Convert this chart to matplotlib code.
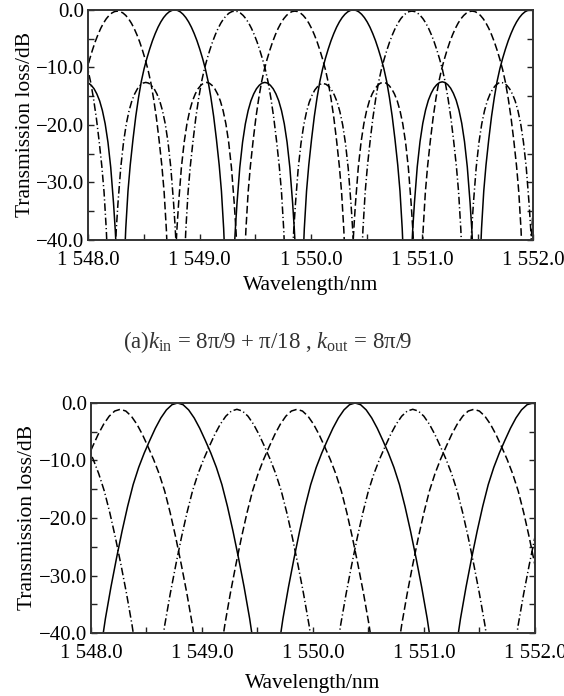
import matplotlib
matplotlib.use("Agg")
import matplotlib.pyplot as plt
from matplotlib.ticker import FuncFormatter, MultipleLocator

plt.rcParams["font.family"] = ["Liberation Serif", "DejaVu Serif"]
plt.rcParams["mathtext.fontset"] = "custom"
plt.rcParams["mathtext.rm"] = "Liberation Serif"
plt.rcParams["mathtext.it"] = "Liberation Serif:italic"

# lobe shapes: distance from lobe centre (nm) -> dB below the lobe peak
main_off = [0, 0.025, 0.05, 0.075, 0.10, 0.125, 0.15, 0.175, 0.20, 0.225, 0.25, 0.275,
            0.30, 0.325, 0.35, 0.375, 0.40, 0.42, 0.44, 0.455, 0.465, 0.475]
main_db = [0, -0.08, -0.33, -0.75, -1.33, -2.08, -3.0, -4.1, -5.35, -6.8, -8.4, -10.2,
           -12.4, -15.2, -18.5, -22.5, -27.0, -31.5, -38.0, -45.0, -52.0, -70.0]
side_off = [0, 0.025, 0.05, 0.075, 0.10, 0.125, 0.15, 0.175, 0.20, 0.225, 0.25, 0.265,
            0.28, 0.30, 0.325]
side_db = [0, -0.12, -0.5, -1.1, -2.0, -3.2, -4.9, -7.2, -10.4, -14.8, -21.0, -25.5,
           -31.0, -39.4, -57.4]
wide_off = [0, 0.05, 0.10, 0.15, 0.20, 0.25, 0.30, 0.35, 0.40, 0.45, 0.50, 0.55, 0.60,
            0.65, 0.70, 0.75, 0.80]
wide_db = [0, -0.3, -1.2, -2.6, -4.4, -6.5, -8.7, -11.2, -14.2, -18.0, -22.3, -27.0,
           -32.0, -37.5, -44.0, -54.0, -75.0]

# (a) lobe centres (nm) and peak levels (dB)
a_solid_centre = [1547.975, 1548.775, 1549.585, 1550.38, 1551.18, 1551.973]
a_solid_peak = [-12.6, 0.0, -12.6, 0.0, -12.5, 0.0]
a_dash_centre = [1548.26, 1549.06, 1549.855, 1550.65, 1551.448, 1552.25]
a_dash_peak = [-0.2, -12.6, -0.2, -12.6, -0.2, -12.6]
a_dashdot_centre = [1547.72, 1548.515, 1549.315, 1550.11, 1550.907, 1551.71, 1552.5]
a_dashdot_peak = [-0.2, -12.6, -0.2, -12.8, -0.2, -12.6, -0.2]

# (b) lobe centres (nm) and peak levels (dB)
b_solid_centre = [1548.78, 1550.38, 1551.98]
b_solid_peak = [0.0, 0.0, 0.0]
b_dash_centre = [1548.264, 1549.856, 1551.45]
b_dash_peak = [-1.1, -1.1, -1.1]
b_dashdot_centre = [1547.72, 1549.315, 1550.90, 1552.5]
b_dashdot_peak = [-1.1, -1.1, -1.1, -1.1]

x_ticks = [1548.0, 1549.0, 1550.0, 1551.0, 1552.0]
y_ticks = [0.0, -10.0, -20.0, -30.0, -40.0]


def lobe(centre, peak, off, db):
    xs = [centre - o for o in off[::-1]] + [centre + o for o in off[1:]]
    ys = [peak + d for d in db[::-1]] + [peak + d for d in db[1:]]
    return xs, ys


def trace(centres, peaks, wide=False):
    xs, ys = [], []
    for c, p in zip(centres, peaks):
        if wide:
            off, db = wide_off, wide_db
        elif p > -6:
            off, db = main_off, main_db
        else:
            off, db = side_off, side_db
        lx, ly = lobe(c, p, off, db)
        xs += lx
        ys += ly
    return xs, ys


def format_nm(value, pos):
    return f"{int(value) // 1000} {value - 1000 * (int(value) // 1000):.1f}"


def format_db(value, pos):
    return f"{value:.1f}".replace("-", "\u2212")


def style_axes(ax):
    ax.set_xlim(x_ticks[0], x_ticks[-1])
    ax.set_ylim(-40, 0)
    ax.set_xticks(x_ticks)
    ax.set_yticks(y_ticks)
    ax.xaxis.set_minor_locator(MultipleLocator(0.5))
    ax.yaxis.set_minor_locator(MultipleLocator(5))
    ax.xaxis.set_major_formatter(FuncFormatter(format_nm))
    ax.yaxis.set_major_formatter(FuncFormatter(format_db))
    ax.tick_params(which="both", direction="in", length=4, width=1.0,
                   top=False, right=True, labelsize=15, colors="#222222",
                   labelcolor="black")
    ax.tick_params(axis="x", pad=8)
    ax.tick_params(axis="y", pad=3)
    for s in ax.spines.values():
        s.set_linewidth(1.4)
        s.set_color("#333333")
    ax.set_ylabel("Transmission loss/dB", fontsize=15.5, labelpad=1)


fig = plt.figure(figsize=(5.64, 6.96), dpi=100)
ax1 = fig.add_axes([0.1569, 0.6552, 0.789, 0.3305])
ax2 = fig.add_axes([0.1613, 0.0905, 0.787, 0.3305])

dash = (5, 2.2)
dashdot = (5, 1.8, 0.8, 1.8)

x, y = trace(a_solid_centre, a_solid_peak)
ax1.plot(x, y, color="black", lw=1.1)
x, y = trace(a_dash_centre, a_dash_peak)
ax1.plot(x, y, color="black", lw=1.1, dashes=dash)
x, y = trace(a_dashdot_centre, a_dashdot_peak)
ax1.plot(x, y, color="black", lw=1.1, dashes=dashdot)

x, y = trace(b_solid_centre, b_solid_peak, wide=True)
ax2.plot(x, y, color="black", lw=1.1)
x, y = trace(b_dash_centre, b_dash_peak, wide=True)
ax2.plot(x, y, color="black", lw=1.1, dashes=dash)
x, y = trace(b_dashdot_centre, b_dashdot_peak, wide=True)
ax2.plot(x, y, color="black", lw=1.1, dashes=dashdot)

style_axes(ax1)
style_axes(ax2)
ax1.set_xlabel("Wavelength/nm", fontsize=15.5, labelpad=4)
ax2.set_xlabel("Wavelength/nm", fontsize=15.5, labelpad=8)

fig.text(0.475, 1 - 342 / 696,
         r"(a)$k_{\rm in}$ = 8π/9 + π/18 , $k_{\rm out}$ = 8π/9",
         ha="center", va="center", fontsize=16.5, color="#333333")

fig.savefig("out.png", dpi=100)
